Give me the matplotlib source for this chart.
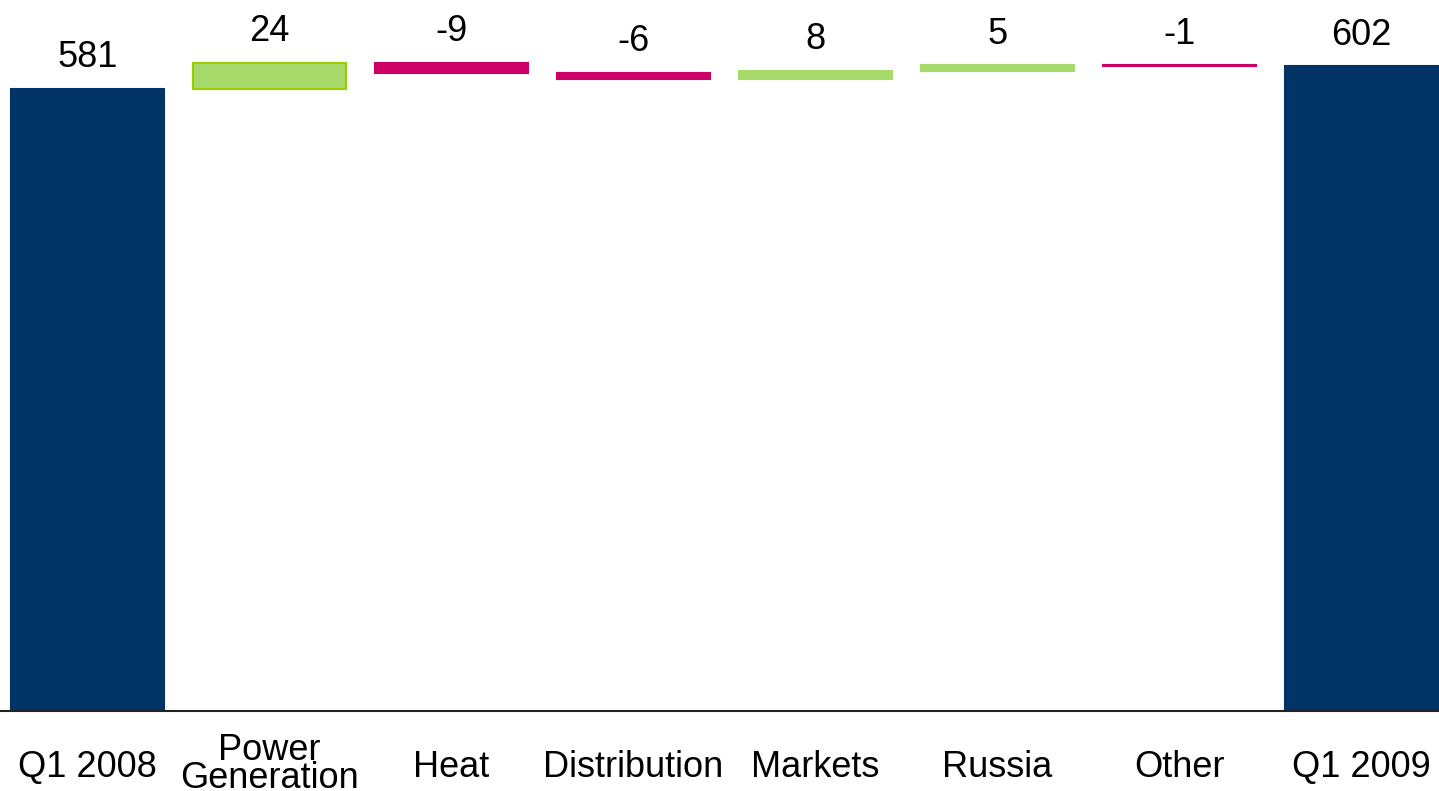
import matplotlib.pyplot as plt

plt.rcParams['font.family'] = ['Liberation Sans', 'DejaVu Sans']

categories = ["Q1 2008", "Power\nGeneration", "Heat", "Distribution",
              "Markets", "Russia", "Other", "Q1 2009"]
start_value = 581
changes = [24, -9, -6, 8, 5, -1]
end_value = 602
value_labels = ["581", "24", "-9", "-6", "8", "5", "-1", "602"]

navy = "#003366"
green = "#A6DA6A"
magenta = "#CC0066"

# waterfall bottoms/heights
bottoms = [0]
heights = [start_value]
colors = [navy]
edges = [navy]
level = start_value
for c in changes:
    if c >= 0:
        bottoms.append(level)
        heights.append(c)
        colors.append(green)
        edges.append(green)
    else:
        bottoms.append(level + c)
        heights.append(-c)
        colors.append(magenta)
        edges.append(magenta)
    level += c
bottoms.append(0)
heights.append(end_value)
colors.append(navy)
edges.append(navy)
edges[1] = "#99CC00"  # power generation has a darker outline

fig = plt.figure(figsize=(14.39, 7.91), dpi=100)
ax = fig.add_axes([0, 0.1011, 1, 0.8989])

x = range(len(categories))
ax.bar(x, heights, bottom=bottoms, width=0.84, color=colors,
       edgecolor=edges, linewidth=1.5)

for i, lab in enumerate(value_labels):
    top = bottoms[i] + heights[i]
    ax.annotate(lab, (i, top), xytext=(0, 10), textcoords="offset points",
                ha="center", va="bottom", fontsize=26, color="black")

for i, cat in enumerate(categories):
    y = -0.08 + 0.005 * cat.count("\n")
    ax.text(i, y, cat, transform=ax.get_xaxis_transform(),
            ha="center", va="center", fontsize=26, linespacing=0.76)

ax.set_xlim(-0.4808, 7.426)
ax.set_ylim(0, 664.1)
for s in ["top", "left", "right"]:
    ax.spines[s].set_visible(False)
ax.spines["bottom"].set_color("#222222")
ax.spines["bottom"].set_linewidth(1.5)
ax.set_xticks([])
ax.set_yticks([])

fig.savefig("out.png", dpi=100)
